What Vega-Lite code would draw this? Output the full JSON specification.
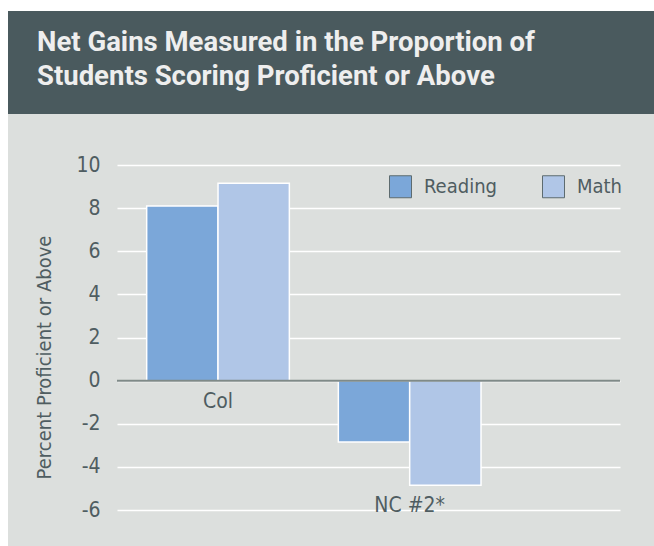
{
  "$schema": "https://vega.github.io/schema/vega-lite/v6.json",
  "background": "#dcdfdd",
  "padding": 0,
  "config": {"view": {"stroke": null}, "concat": {"spacing": 0}},
  "spacing": 0,
  "bounds": "flush",
  "hconcat": [
    {
      "width": 8, "height": 546,
      "data": {"values": []},
      "mark": "rect",
      "encoding": {},
      "view": {"fill": "white", "stroke": null}
    },
    {
      "spacing": 0,
      "bounds": "flush",
      "vconcat": [
        {
          "width": 646, "height": 11,
          "data": {"values": []},
          "mark": "rect",
          "encoding": {},
          "view": {"fill": "white", "stroke": null}
        },
        {
          "width": 646, "height": 103,
          "data": {"values": []},
          "mark": "rect",
          "encoding": {},
          "view": {"fill": "#4a5a5e", "stroke": null},
          "title": {
            "text": ["Net Gains Measured in the Proportion of", "Students Scoring Proficient or Above"],
            "orient": "top",
            "anchor": "start",
            "frame": "group",
            "baseline": "top",
            "offset": -79,
            "dx": 29,
            "font": "Roboto",
            "fontSize": 27.5,
            "fontWeight": "bold",
            "color": "#eeeeee",
            "lineHeight": 34
          }
        },
        {
          "width": 646, "height": 51,
          "data": {"values": []},
          "mark": "rect",
          "encoding": {}
        },
        {
          "spacing": 0,
          "bounds": "flush",
          "hconcat": [
            {
              "width": 109, "height": 345,
              "data": {"values": []},
              "mark": "rect",
              "encoding": {}
            },
            {
              "width": 503, "height": 345,
              "data": {"values": [
                {"category": "Col", "subject": "Reading", "value": 8.1},
                {"category": "Col", "subject": "Math", "value": 9.15},
                {"category": "NC #2*", "subject": "Reading", "value": -2.85},
                {"category": "NC #2*", "subject": "Math", "value": -4.85}
              ]},
              "layer": [
                {
                  "mark": {"type": "bar", "stroke": "white", "strokeWidth": 1.5},
                  "encoding": {
                    "x": {"field": "category", "type": "nominal",
                          "scale": {"domain": ["Col", "NC #2*"], "paddingInner": 0.2556, "paddingOuter": 0.44, "align": 0.176}, "axis": null},
                    "xOffset": {"field": "subject", "type": "nominal", "sort": ["Reading", "Math"], "scale": {"domain": ["Reading", "Math"], "paddingInner": 0, "paddingOuter": 0}},
                    "y": {"field": "value", "type": "quantitative",
                          "scale": {"domain": [-6, 10], "nice": false, "zero": false},
                          "axis": {
                            "values": [-6, -4, -2, 0, 2, 4, 6, 8, 10],
                            "labelExpr": "datum.value",
                            "grid": true, "gridColor": "white", "gridWidth": 1.5,
                            "domain": false, "ticks": false,
                            "labelPadding": 17,
                            "labelFont": "DejaVu Sans Condensed",
                            "labelFontSize": 21, "labelColor": "#4f5d61",
                            "title": "Percent Proficient or Above",
                            "titleFont": "DejaVu Sans Condensed",
                            "titleFontSize": 20, "titleFontWeight": "normal", "titleColor": "#4f5d61",
                            "titlePadding": 21, "titleY": 192
                          }},
                    "color": {"field": "subject", "type": "nominal", "sort": ["Reading", "Math"],
                              "scale": {"domain": ["Reading", "Math"], "range": ["#7ba7d9", "#b0c6e7"]},
                              "legend": {
                                "title": null, "orient": "none", "direction": "horizontal",
                                "legendX": 389, "legendY": 175, "padding": 0,
                                "symbolType": "square", "symbolSize": 484,
                                "symbolStrokeColor": "#5d6b6f", "symbolStrokeWidth": 1,
                                "symbolOpacity": 1,
                                "labelFont": "DejaVu Sans Condensed",
                                "labelFontSize": 20, "labelColor": "#4f5d61",
                                "labelOffset": 12, "columnPadding": 43
                              }}
                  }
                },
                {
                  "data": {"values": [{}]},
                  "mark": {"type": "rule", "color": "#7f8a88", "strokeWidth": 2},
                  "encoding": {"y": {"datum": 0}}
                },
                {
                  "transform": [
                    {"aggregate": [{"op": "min", "field": "value", "as": "minv"}], "groupby": ["category"]},
                    {"calculate": "min(0, datum.minv)", "as": "low"}
                  ],
                  "mark": {"type": "text", "baseline": "top", "dy": 10,
                           "font": "DejaVu Sans Condensed",
                           "fontSize": 21, "color": "#4f5d61"},
                  "encoding": {
                    "x": {"field": "category", "type": "nominal"},
                    "y": {"field": "low", "type": "quantitative"},
                    "text": {"field": "category"}
                  }
                }
              ]
            }
          ]
        }
      ]
    }
  ]
}
